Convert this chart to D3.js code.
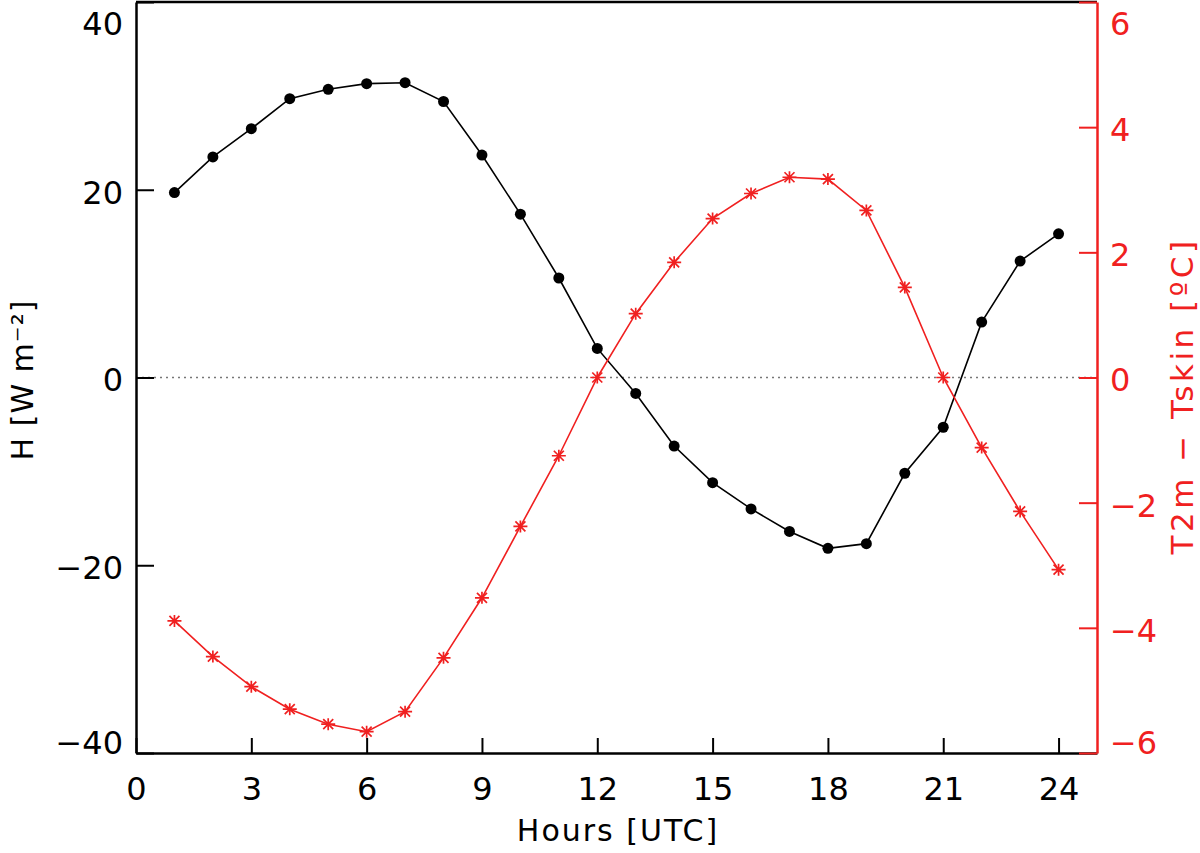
<!doctype html>
<html>
<head>
<meta charset="utf-8">
<title>H and T2m - Tskin</title>
<script src="https://d3js.org/d3.v7.min.js"></script>
<style>
    body { margin: 0; background: #fff; }
    svg text { font-family: "DejaVu Sans", sans-serif; }
</style>
</head>
<body>
<svg id="chart" width="1200" height="853"></svg>
<script>
// data
var hours = [1, 2, 3, 4, 5, 6, 7, 8, 9, 10, 11, 12, 13, 14, 15, 16, 17, 18, 19, 20, 21, 22, 23, 24];
var sensibleH = [19.7, 23.5, 26.5, 29.7, 30.7, 31.3, 31.4, 29.4, 23.7, 17.4, 10.6, 3.1,
                 -1.7, -7.3, -11.2, -14.0, -16.4, -18.2, -17.7, -10.2, -5.3, 5.9, 12.4, 15.3];
var tempDiff = [-3.89, -4.46, -4.94, -5.30, -5.54, -5.66, -5.34, -4.48, -3.52, -2.38, -1.25, 0.0,
                1.02, 1.84, 2.54, 2.94, 3.20, 3.17, 2.67, 1.44, 0.0, -1.12, -2.14, -3.07];
var xTicks = [0, 3, 6, 9, 12, 15, 18, 21, 24];
var leftTicks = [-40, -20, 0, 20, 40];
var rightTicks = [-6, -4, -2, 0, 2, 4, 6];

var red = "#f02020";
var plotLeft = 136, plotRight = 1097, plotTop = 2, plotBottom = 753;

var svg = d3.select("#chart");
var x = d3.scaleLinear().domain([0, 25]).range([plotLeft, plotRight]);
var yL = d3.scaleLinear().domain([-40, 40]).range([plotBottom, plotTop]);
var yR = d3.scaleLinear().domain([-6, 6]).range([plotBottom, plotTop]);
var fmt = function (d) { return d < 0 ? "\u2212" + Math.abs(d) : String(d); };

// y labels sit a little below their tick, end labels pulled inside the page
function nudge(sel, lo, hi) {
    sel.selectAll(".tick text").attr("dy", function (d) {
        if (d === hi) return "1.0em";
        if (d === lo) return "0.02em";
        return "0.42em";
    });
}

// zero line
svg.append("line")
    .attr("x1", plotLeft).attr("x2", plotRight).attr("y1", yL(0)).attr("y2", yL(0))
    .style("stroke", "#777").style("stroke-width", 1.5).style("stroke-dasharray", "2,4");

// top frame
svg.append("line")
    .attr("x1", plotLeft).attr("x2", plotRight).attr("y1", plotTop).attr("y2", plotTop)
    .style("stroke", "#000").style("stroke-width", 2.5);

// bottom axis
var gx = svg.append("g").attr("transform", "translate(0," + plotBottom + ")")
    .call(d3.axisBottom(x).tickValues(xTicks).tickSizeInner(-15).tickSizeOuter(0).tickPadding(24).tickFormat(fmt));
gx.select(".domain").style("stroke-width", 2.5);
gx.selectAll(".tick line").style("stroke-width", 2);
gx.selectAll("text").style("font-size", "32px").attr("fill", "#000");

// left axis
var gl = svg.append("g").attr("transform", "translate(" + plotLeft + ",0)")
    .call(d3.axisLeft(yL).tickValues(leftTicks).tickSizeInner(-18).tickSizeOuter(0).tickPadding(13).tickFormat(fmt));
gl.select(".domain").style("stroke-width", 2.5);
gl.selectAll(".tick line").style("stroke-width", 2);
gl.selectAll("text").style("font-size", "32px").attr("fill", "#000");
nudge(gl, -40, 40);

// right axis
var gr = svg.append("g").attr("transform", "translate(" + plotRight + ",0)")
    .call(d3.axisRight(yR).tickValues(rightTicks).tickSizeInner(-18).tickSizeOuter(0).tickPadding(13).tickFormat(fmt));
gr.select(".domain").style("stroke", red).style("stroke-width", 2.5);
gr.selectAll(".tick line").style("stroke", red).style("stroke-width", 2);
gr.selectAll("text").style("font-size", "32px").attr("fill", red);
nudge(gr, -6, 6);

// H series
var lineH = d3.line().x(function (d, i) { return x(hours[i]); }).y(function (d) { return yL(d); });
svg.append("path").attr("d", lineH(sensibleH))
    .style("fill", "none").style("stroke", "#000").style("stroke-width", 1.6);
svg.selectAll(".dotH").data(sensibleH).enter().append("circle")
    .attr("cx", function (d, i) { return x(hours[i]); })
    .attr("cy", function (d) { return yL(d); })
    .attr("r", 5.5).style("fill", "#000");

// T2m - Tskin series
var lineT = d3.line().x(function (d, i) { return x(hours[i]); }).y(function (d) { return yR(d); });
svg.append("path").attr("d", lineT(tempDiff))
    .style("fill", "none").style("stroke", red).style("stroke-width", 1.6);
var star = "M-7,0L7,0M-5,-5L5,5M-5,5L5,-5M0,-6L0,6";
svg.selectAll(".dotT").data(tempDiff).enter().append("path")
    .attr("transform", function (d, i) { return "translate(" + x(hours[i]) + "," + yR(d) + ")"; })
    .attr("d", star)
    .style("fill", "none").style("stroke", red).style("stroke-width", 1.7);

// axis titles
svg.append("text").attr("x", 618).attr("y", 841).attr("text-anchor", "middle")
    .style("font-size", "30px").style("letter-spacing", "2px").text("Hours [UTC]");
svg.append("text").attr("transform", "translate(33,380) rotate(-90)").attr("text-anchor", "middle")
    .style("font-size", "30px").style("letter-spacing", "1px")
    .text("H [W m\u207B\u00B2]");
svg.append("text").attr("transform", "translate(1193,396) rotate(-90)").attr("text-anchor", "middle")
    .style("font-size", "31px").style("letter-spacing", "3.5px").attr("fill", red)
    .text("T2m \u2212 Tskin [\u00BAC]");
</script>
</body>
</html>
